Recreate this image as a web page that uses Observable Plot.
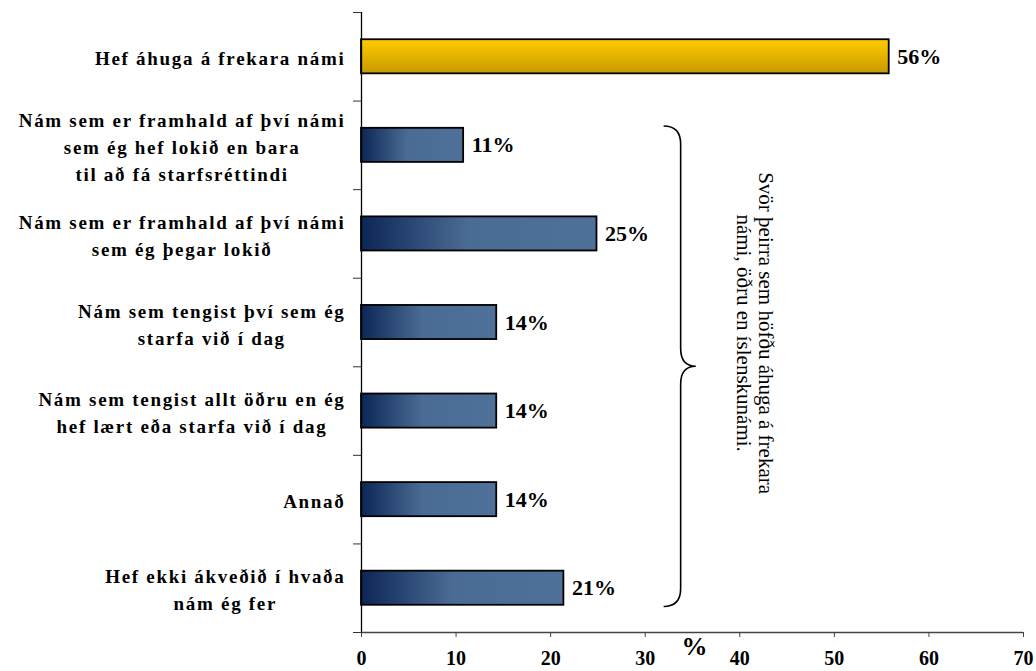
<!DOCTYPE html>
<html>
<head>
<meta charset="utf-8">
<script src="https://cdn.jsdelivr.net/npm/d3@7"></script>
<script src="https://cdn.jsdelivr.net/npm/@observablehq/plot@0.6"></script>
<style>
  html, body { margin: 0; padding: 0; background: white; }
  #chart svg { display: block; }
</style>
</head>
<body>
<div id="chart"></div>
<script>
// ---- data ----
const categories = [
  "Hef áhuga á frekara námi",
  "Nám sem er framhald af því námi\nsem ég hef lokið en bara\ntil að fá starfsréttindi",
  "Nám sem er framhald af því námi\nsem ég þegar lokið",
  "Nám sem tengist því sem ég\nstarfa við í dag",
  "Nám sem tengist allt öðru en ég\nhef lært eða starfa við í dag",
  "Annað",
  "Hef ekki ákveðið í hvaða\nnám ég fer"
];
const values = [55.8, 10.8, 24.9, 14.3, 14.3, 14.3, 21.4];
const xTicks = [0, 10, 20, 30, 40, 50, 60, 70];
const xLabel = "%";
const braceNote = "Svör þeirra sem höfðu áhuga á frekara\nnámi, öðru en íslenskunámi.";
const highlighted = [0];            // index of the gold bar
const bracketed = [1, 6];           // first / last category under the brace

const data = categories.map((c, i) => ({i, label: c, value: values[i]}));
const gold = data.filter(d => highlighted.includes(d.i));
const blue = data.filter(d => !highlighted.includes(d.i));
const half = 0.1925; // half bar thickness in band units

const serif = "'Liberation Serif', 'Times New Roman', serif";

const defs = () => {
  const d = d3.create("svg:defs");
  const g = d.append("linearGradient").attr("id", "goldGrad")
    .attr("x1", 0).attr("y1", 0).attr("x2", 0).attr("y2", 1);
  g.append("stop").attr("offset", "0").attr("stop-color", "#ffcc00");
  g.append("stop").attr("offset", "1").attr("stop-color", "#c79a00");
  const b = d.append("linearGradient").attr("id", "blueGrad")
    .attr("x1", 0).attr("y1", 0).attr("x2", 1).attr("y2", 0);
  b.append("stop").attr("offset", "0").attr("stop-color", "#0c2655");
  b.append("stop").attr("offset", "0.45").attr("stop-color", "#4a6b93");
  b.append("stop").attr("offset", "1").attr("stop-color", "#4f7098");
  return d.node();
};

const brace = (index, scales) => {
  const x = scales.x, y = scales.y;
  const y0 = y(bracketed[0] + 0.5 - half - 0.02);
  const y1 = y(bracketed[1] + 0.5 + half + 0.02);
  const ym = (y0 + y1) / 2;
  const xa = x(32), xs = x(33.8), xt = x(35.4);
  const r = 18;
  const p = `M${xa},${y0} Q${xs},${y0} ${xs},${y0 + r} L${xs},${ym - r} Q${xs},${ym} ${xt},${ym}` +
            ` Q${xs},${ym} ${xs},${ym + r} L${xs},${y1 - r} Q${xs},${y1} ${xa},${y1}`;
  return d3.create("svg:path").attr("d", p).attr("fill", "none")
    .attr("stroke", "black").attr("stroke-width", 1.6).node();
};

const plot = Plot.plot({
  width: 1036,
  height: 671,
  marginLeft: 361,
  marginRight: 13,
  marginTop: 12,
  marginBottom: 39,
  style: {fontFamily: serif, background: "white", color: "black"},
  x: {domain: [0, 70]},
  y: {domain: [0, categories.length], reverse: true},
  marks: [
    defs,
    Plot.rect(blue, {x1: 0, x2: "value", y1: d => d.i + 0.5 - half, y2: d => d.i + 0.5 + half,
      fill: "url(#blueGrad)", stroke: "black", strokeWidth: 1.8}),
    Plot.rect(gold, {x1: 0, x2: "value", y1: d => d.i + 0.5 - half, y2: d => d.i + 0.5 + half,
      fill: "url(#goldGrad)", stroke: "black", strokeWidth: 1.8}),
    Plot.ruleX([0], {y1: 0, y2: categories.length, stroke: "black", strokeWidth: 1.3}),
    Plot.ruleY([categories.length], {x1: 0, x2: 70, stroke: "#444", strokeWidth: 1.3}),
    Plot.axisY({ticks: d3.range(0, categories.length + 1), tickSize: 8, tickFormat: () => "", label: null, stroke: "#333"}),
    Plot.axisX({ticks: xTicks, tickSize: 5, tickPadding: 13, label: null, fontSize: 20, fontWeight: "bold", stroke: "#444"}),
    Plot.text([xLabel], {frameAnchor: "bottom", dy: 22, dx: 2, fontSize: 26, fontWeight: "bold", fill: "black"}),
    Plot.text(data, {x: 0, y: d => d.i + 0.5, text: "label", textAnchor: "end", dx: -16,
      fontSize: 19, fontWeight: "bold", lineHeight: 1.42, fill: "black"}),
    Plot.text(data, {x: "value", y: d => d.i + 0.5, text: d => Math.round(d.value) + "%", textAnchor: "start", dx: 8,
      fontSize: 22, fontWeight: "bold", fill: "black"}),
    brace,
    Plot.text([braceNote], {x: 41.6, y: 3.62, rotate: 90, fontSize: 21, lineHeight: 1.05,
      textAnchor: "middle", lineAnchor: "middle", fill: "black"})
  ]
});

document.getElementById("chart").appendChild(plot);

// letter spacing + centred multi-line category labels, right-aligned as a block
const flat = categories.map(c => c.replace(/\n/g, ""));
d3.select(plot).selectAll("text").filter(function() {
  return flat.includes(this.textContent);
}).each(function() {
  const t = d3.select(this);
  t.style("letter-spacing", "1.7px");
  const spans = t.selectAll("tspan");
  if (spans.size() > 1) {
    const boxes = [];
    spans.each(function() { const b = this.getBBox(); boxes.push({l: b.x, r: b.x + b.width}); });
    const right = Math.max(...boxes.map(b => b.r));
    const wide = boxes.reduce((a, b) => (b.r - b.l > a.r - a.l ? b : a));
    const target = right - (wide.r - wide.l) / 2;
    spans.each(function(_, k) {
      const c = (boxes[k].l + boxes[k].r) / 2;
      const cur = +this.getAttribute("x") || 0;
      d3.select(this).attr("x", cur + (target - c));
    });
  }
});
</script>
</body>
</html>
